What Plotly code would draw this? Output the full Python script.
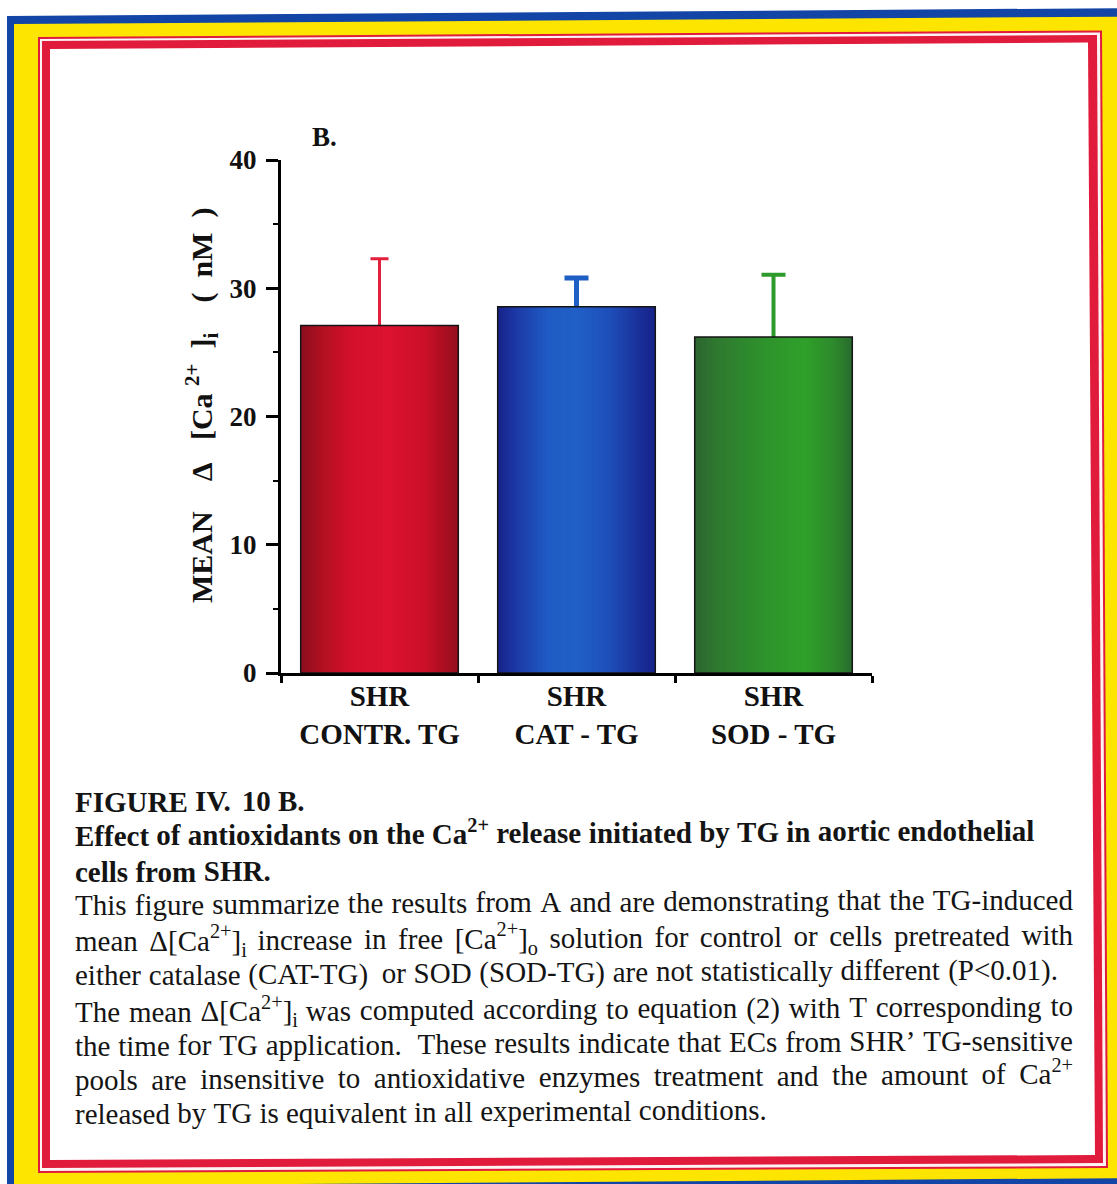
import re
import plotly.graph_objects as go

# ---------------- data ----------------
groups = ["SHR<br>CONTR. TG", "SHR<br>CAT - TG", "SHR<br>SOD - TG"]
mean_rise = [27.1, 28.55, 26.2]      # mean delta [Ca2+]i (nM)
sem_rise = [5.2, 2.25, 4.85]         # upper error bar
y_ticks = [0, 10, 20, 30, 40]

# ---------------- page geometry (pixels) ----------------
W, H = 1117, 1184
PL, PR, PT, PB = 281, 872, 160, 673   # plot area edges
SERIF = "Liberation Serif"


def xp(px):
    return px / W


def yp(py):
    return 1 - py / H


def hex2rgb(h):
    h = h.lstrip('#')
    return [int(h[i:i + 2], 16) for i in (0, 2, 4)]


def shade(stops, t):
    for (t0, c0), (t1, c1) in zip(stops, stops[1:]):
        if t <= t1:
            f = (t - t0) / (t1 - t0) if t1 > t0 else 0
            a, b = hex2rgb(c0), hex2rgb(c1)
            return 'rgb(%d,%d,%d)' % tuple(round(a[i] + (b[i] - a[i]) * f) for i in range(3))
    return stops[-1][1]


# horizontal shading of each bar (left edge -> right edge)
bar_shading = [
    [(0.0, '#8c0e1e'), (0.12, '#ad1020'), (0.3, '#d2102c'), (0.55, '#dc1230'),
     (0.78, '#cc1029'), (0.92, '#a90f21'), (1.0, '#930f1f')],
    [(0.0, '#18238a'), (0.12, '#1c3aa6'), (0.32, '#1f5bc4'), (0.5, '#2060c6'),
     (0.72, '#1e4db8'), (0.9, '#1a2f98'), (1.0, '#16228a')],
    [(0.0, '#2c6530'), (0.15, '#2f7a30'), (0.45, '#2e932c'), (0.7, '#2fa02a'),
     (0.88, '#2d8a2c'), (1.0, '#2a6a2d')],
]
err_colors = ['#e3203c', '#1f5ec4', '#2f9a2c']
err_thickness = [3, 5, 4]
err_cap = [9, 12, 12]

BAR_W = 0.8
fig = go.Figure()

# error bars (lower half is hidden by the opaque bar bodies drawn afterwards)
for g, v, e, c, th, cw in zip(groups, mean_rise, sem_rise, err_colors, err_thickness, err_cap):
    fig.add_bar(x=[g], y=[v], width=BAR_W, offset=-BAR_W / 2,
                marker=dict(color='rgba(0,0,0,0)', line=dict(width=0)),
                error_y=dict(type='data', array=[e], symmetric=True, color=c,
                             thickness=th, width=cw),
                hoverinfo='skip', showlegend=False)

# bar bodies built from narrow vertical strips to give the shaded look
N_STRIPS = 64
step = BAR_W / N_STRIPS
for k in range(N_STRIPS):
    t = (k + 0.5) / N_STRIPS
    start = -BAR_W / 2 + k * step
    w = min(2 * step, BAR_W / 2 - start)
    fig.add_bar(x=groups, y=mean_rise, width=w, offset=start,
                marker=dict(color=[shade(s, t) for s in bar_shading], line=dict(width=0)),
                hoverinfo='skip', showlegend=False)

# thin black outline of each bar
fig.add_bar(x=groups, y=mean_rise, width=BAR_W, offset=-BAR_W / 2,
            marker=dict(color='rgba(0,0,0,0)', line=dict(color='#151515', width=1.5)),
            hoverinfo='skip', showlegend=False)

# ---------------- caption ----------------
lower = "abcdefghijklmnopqrstuvwxyz"
upper = "ABCDEFGHIJKLMNOPQRSTUVWXYZ"
TIMES_R = dict(zip(lower, [444, 500, 444, 500, 444, 333, 500, 500, 278, 278, 500, 278, 778,
                           500, 500, 500, 500, 333, 389, 278, 500, 500, 722, 500, 500, 444]))
TIMES_R.update(zip(upper, [722, 667, 667, 722, 611, 556, 722, 722, 333, 389, 722, 611, 889,
                           722, 722, 556, 722, 667, 556, 611, 722, 722, 944, 722, 722, 611]))
TIMES_R.update({' ': 250, '.': 250, ',': 250, '-': 333, '(': 333, ')': 333, '[': 333,
                ']': 333, '+': 564, '<': 564, '\u2019': 333, '\u0394': 612})
TIMES_R.update({d: 500 for d in "0123456789"})
TIMES_B = dict(zip(lower, [500, 556, 444, 556, 444, 333, 500, 556, 278, 333, 556, 278, 833,
                           556, 500, 556, 556, 444, 389, 333, 556, 500, 722, 500, 500, 444]))
TIMES_B.update(zip(upper, [722, 667, 722, 722, 667, 611, 778, 778, 389, 500, 778, 667, 944,
                           722, 778, 611, 778, 722, 556, 667, 722, 722, 1000, 722, 722, 667]))
TIMES_B.update({' ': 250, '.': 250, ',': 250, '-': 333, '(': 333, ')': 333, '[': 333,
                ']': 333, '+': 570, '<': 570, '\u0394': 612})
TIMES_B.update({d: 500 for d in "0123456789"})


def text_em(s, table):
    s = s.replace('&lt;', '<')
    total = 0.0
    for part in re.split(r'(<su[pb]>.*?</su[pb]>)', s):
        scale = 1.0
        m = re.match(r'<su[pb]>(.*?)</su[pb]>', part)
        if m:
            part, scale = m.group(1), 0.7
        total += scale * sum(table.get(ch, 500) for ch in part)
    return total / 1000.0


CAP_SIZE = 29
X_LEFT = 75
TILT = -0.0063   # the printed page sits very slightly rotated

# (text, bold, baseline at left margin, right edge when justified)
caption_lines = [
    ("FIGURE IV. 10 B.", True, 812, None),
    ("Effect of antioxidants on the Ca<sup>2+</sup> release initiated by TG in aortic endothelial",
     True, 846, None),
    ("cells from SHR.", True, 882, None),
    ("This figure summarize the results from A and are demonstrating that the TG-induced",
     False, 915, 1073),
    ("mean \u0394[Ca<sup>2+</sup>]<sub>i</sub> increase in free [Ca<sup>2+</sup>]<sub>o</sub> "
     "solution for control or cells pretreated with", False, 951, 1073),
    ("either catalase (CAT-TG) or SOD (SOD-TG) are not statistically different (P&lt;0.01).",
     False, 985, 1058),
    ("The mean \u0394[Ca<sup>2+</sup>]<sub>i</sub> was computed according to equation (2) "
     "with T corresponding to", False, 1022, 1073),
    ("the time for TG application.  These results indicate that ECs from SHR\u2019 TG-sensitive",
     False, 1056, 1073),
    ("pools are insensitive to antioxidative enzymes treatment and the amount of Ca<sup>2+</sup>",
     False, 1090, 1073),
    ("released by TG is equivalent in all experimental conditions.", False, 1124, None),
]

words = {True: ([], [], []), False: ([], [], [])}
for text, bold, base, right in caption_lines:
    table = TIMES_B if bold else TIMES_R
    toks = text.split(' ')
    widths = [text_em(tk, table) * CAP_SIZE for tk in toks]
    if right is not None and len(toks) > 1:
        gap = (right - X_LEFT - sum(widths)) / (len(toks) - 1)
    else:
        gap = 0.25 * CAP_SIZE
    x = X_LEFT
    for tk, w in zip(toks, widths):
        if tk:
            wx, wy, wt = words[bold]
            wx.append(x)
            wy.append(base + TILT * (x - X_LEFT) - 0.25 * CAP_SIZE)
            wt.append(tk)
        x += w + gap

# the caption is set on a page-sized, hidden pair of axes measured in pixels
for bold, (wx, wy, wt) in words.items():
    fig.add_trace(go.Scatter(
        x=wx, y=wy, text=wt, mode='text', textposition='middle right',
        textfont=dict(family=SERIF, size=CAP_SIZE, color='#141414',
                      weight='bold' if bold else 'normal'),
        xaxis='x2', yaxis='y2', cliponaxis=False, hoverinfo='skip', showlegend=False))

# ---------------- decorative frame ----------------
FRAME_BLUE, FRAME_YELLOW, FRAME_RED = '#1245a6', '#fde500', '#e01b3c'
frame = [
    (FRAME_BLUE, [(7, 16), (1140, 8), (1140, 1210), (7, 1210)]),
    (FRAME_YELLOW, [(14, 24), (1140, 16.5), (1140, 1178), (14, 1186)]),
    (FRAME_RED, [(38, 37), (1102, 30.5), (1108, 1168), (38, 1173)]),
    ('#fdf3f4', [(40, 39), (1100, 32.5), (1106, 1166), (40, 1171)]),
    (FRAME_RED, [(42, 41), (1097, 35), (1103, 1163), (42, 1168)]),
    ('#ffffff', [(50, 49), (1088, 42.5), (1095, 1155), (50, 1160)]),
]


def poly(pts):
    return 'M ' + ' L '.join('%.5f,%.5f' % (xp(x), yp(y)) for x, y in pts) + ' Z'


shapes = [dict(type='path', path=poly(pts), xref='paper', yref='paper', layer='below',
               fillcolor=col, line=dict(width=0)) for col, pts in frame]

# ---------------- layout ----------------
fig.update_layout(
    width=W, height=H,
    margin=dict(l=0, r=0, t=0, b=0, pad=0, autoexpand=False),
    paper_bgcolor='white', plot_bgcolor='rgba(0,0,0,0)',
    barmode='overlay', showlegend=False, shapes=shapes,
    xaxis=dict(domain=[PL / W, PR / W], anchor='y',
               type='category', categoryorder='array', categoryarray=groups,
               range=[-0.5, 2.5], showline=True, linecolor='black', linewidth=3,
               ticks='outside', ticklen=7, tickwidth=3, tickcolor='black',
               tickson='boundaries', showgrid=False, zeroline=False,
               tickfont=dict(family=SERIF, size=29, color='#111', weight='bold'),
               ticklabelstandoff=-5, fixedrange=True),
    yaxis=dict(domain=[1 - PB / H, 1 - PT / H], anchor='x',
               range=[0, 40], tickmode='array', tickvals=y_ticks,
               showline=True, linecolor='black', linewidth=3,
               ticks='outside', ticklen=12, tickwidth=3, tickcolor='black',
               minor=dict(dtick=5, tick0=0, ticks='outside', ticklen=5, tickwidth=2,
                          tickcolor='black'),
               showgrid=False, zeroline=False,
               tickfont=dict(family=SERIF, size=27, color='#111', weight='bold'),
               ticklabelstandoff=4, fixedrange=True),
    xaxis2=dict(domain=[0, 1], anchor='y2', range=[0, W], visible=False, fixedrange=True),
    yaxis2=dict(domain=[0, 1], anchor='x2', range=[H, 0], visible=False, fixedrange=True),
)

NB = '\u00a0'
fig.add_annotation(
    text="MEAN" + NB * 4 + "\u0394" + NB * 3 + "[Ca" + NB + "<sup>2+</sup>" + NB * 2 + "]"
         "<sub>i</sub>" + NB * 4 + "(" + NB * 2 + "nM" + NB * 2 + ")",
    textangle=-90, x=xp(201), y=yp(406), xref='paper', yref='paper',
    xanchor='center', yanchor='middle', showarrow=False,
    font=dict(family=SERIF, size=30, color='#111', weight='bold'))
fig.add_annotation(
    text="B.", x=xp(324), y=yp(137), xref='paper', yref='paper',
    xanchor='center', yanchor='middle', showarrow=False,
    font=dict(family=SERIF, size=27, color='#111', weight='bold'))

fig.write_html("out.html")
